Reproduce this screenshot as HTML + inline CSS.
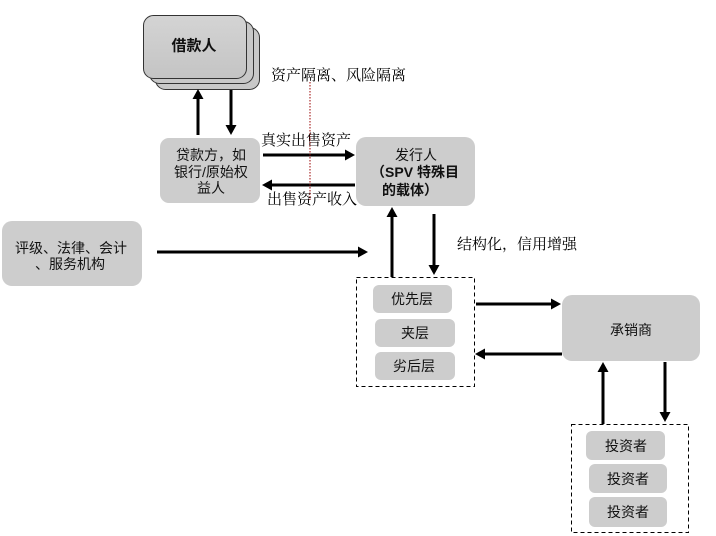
<!DOCTYPE html>
<html><head><meta charset="utf-8">
<style>
html,body{margin:0;padding:0;background:#fff;}
svg{display:block;}
text{font-family:"Liberation Sans","Noto Sans CJK SC",sans-serif;fill:#111;}
text.s{font-family:"Liberation Serif","Noto Serif CJK SC",serif;fill:#000;}
</style></head>
<body>
<svg width="716" height="536" viewBox="0 0 716 536" xmlns="http://www.w3.org/2000/svg">
<defs>
<linearGradient id="g" x1="0" y1="0" x2="0" y2="1">
<stop offset="0" stop-color="#d4d4d4"/><stop offset="1" stop-color="#c4c4c4"/>
</linearGradient>
</defs>
<!-- borrower stack -->
<rect x="155.5" y="27.5" width="104" height="62" rx="10" fill="#c8c8c8" stroke="#333" stroke-width="1"/>
<rect x="149.5" y="21.5" width="104" height="62" rx="10" fill="#c8c8c8" stroke="#333" stroke-width="1"/>
<rect x="143.5" y="15.5" width="103" height="63" rx="10" fill="url(#g)" stroke="#333" stroke-width="1"/>
<text x="194" y="46" font-size="15" font-weight="bold" text-anchor="middle" dominant-baseline="central">借款人</text>

<!-- arrows borrower <-> lender -->
<line x1="198" y1="135" x2="198" y2="98" stroke="#000" stroke-width="3"/>
<polygon points="198,89 192.5,99 203.5,99" fill="#000"/>
<line x1="231" y1="90" x2="231" y2="126" stroke="#000" stroke-width="3"/>
<polygon points="231,135 225.5,125 236.5,125" fill="#000"/>

<text class="s" x="271" y="76" font-size="15" dominant-baseline="central">资产隔离、风险隔离</text>

<!-- lender box -->
<rect x="160" y="138" width="100" height="65" rx="9" fill="#cdcdcd"/>
<text x="211" y="155" font-size="14" text-anchor="middle" dominant-baseline="central">贷款方，如</text>
<text x="211" y="172" font-size="14" text-anchor="middle" dominant-baseline="central">银行/原始权</text>
<text x="211" y="188" font-size="14" text-anchor="middle" dominant-baseline="central">益人</text>

<!-- sale arrows -->
<line x1="263" y1="155" x2="345" y2="155" stroke="#000" stroke-width="3"/>
<polygon points="355,155 345,149.5 345,160.5" fill="#000"/>
<text class="s" x="261" y="141" font-size="15" dominant-baseline="central">真实出售资产</text>
<line x1="355" y1="185" x2="272" y2="185" stroke="#000" stroke-width="3"/>
<polygon points="262,185 272,179.5 272,190.5" fill="#000"/>
<text class="s" x="267" y="200" font-size="15" dominant-baseline="central">出售资产收入</text>

<!-- red dotted line -->
<line x1="310" y1="82" x2="310" y2="200" stroke="#990000" stroke-width="1" stroke-dasharray="1.5,1.5"/>

<!-- issuer box -->
<rect x="356" y="137" width="119" height="69" rx="10" fill="#cdcdcd"/>
<text x="416" y="155" font-size="14" text-anchor="middle" dominant-baseline="central">发行人</text>
<text x="415" y="172" font-size="14" font-weight="bold" text-anchor="middle" dominant-baseline="central">（SPV 特殊目</text>
<text x="410" y="190" font-size="14" font-weight="bold" text-anchor="middle" dominant-baseline="central">的载体）</text>

<!-- rating box -->
<rect x="2" y="221" width="140" height="65" rx="10" fill="#cdcdcd"/>
<text x="71" y="248" font-size="14" text-anchor="middle" dominant-baseline="central">评级、法律、会计</text>
<text x="70" y="264" font-size="14" text-anchor="middle" dominant-baseline="central">、服务机构</text>
<line x1="157" y1="252" x2="358" y2="252" stroke="#000" stroke-width="3"/>
<polygon points="368,252 358,246.5 358,257.5" fill="#000"/>

<!-- issuer <-> tranche -->
<line x1="392" y1="277" x2="392" y2="216" stroke="#000" stroke-width="3"/>
<polygon points="392,207 386.5,217 397.5,217" fill="#000"/>
<line x1="434" y1="214" x2="434" y2="266" stroke="#000" stroke-width="3"/>
<polygon points="434,275 428.5,265 439.5,265" fill="#000"/>
<text class="s" x="457" y="245" font-size="15" dominant-baseline="central">结构化，信用增强</text>

<!-- tranche dashed box -->
<rect x="356.5" y="277.5" width="118" height="109" fill="none" stroke="#000" stroke-width="1" stroke-dasharray="4,3"/>
<rect x="373" y="285" width="79" height="28" rx="6" fill="#cdcdcd"/>
<text x="412" y="299" font-size="14" text-anchor="middle" dominant-baseline="central">优先层</text>
<rect x="375" y="319" width="80" height="28" rx="6" fill="#cdcdcd"/>
<text x="415" y="333" font-size="14" text-anchor="middle" dominant-baseline="central">夹层</text>
<rect x="375" y="352" width="80" height="28" rx="6" fill="#cdcdcd"/>
<text x="414" y="366" font-size="14" text-anchor="middle" dominant-baseline="central">劣后层</text>

<!-- tranche <-> underwriter -->
<line x1="476" y1="304" x2="551" y2="304" stroke="#000" stroke-width="3"/>
<polygon points="561,304 551,298.5 551,309.5" fill="#000"/>
<line x1="562" y1="354" x2="485" y2="354" stroke="#000" stroke-width="3"/>
<polygon points="475,354 485,348.5 485,359.5" fill="#000"/>

<!-- underwriter -->
<rect x="562" y="295" width="138" height="66" rx="10" fill="#cdcdcd"/>
<text x="631" y="330" font-size="14" text-anchor="middle" dominant-baseline="central">承销商</text>

<!-- underwriter <-> investors -->
<line x1="603" y1="424" x2="603" y2="371" stroke="#000" stroke-width="3"/>
<polygon points="603,362 597.5,372 608.5,372" fill="#000"/>
<line x1="665" y1="362" x2="665" y2="413" stroke="#000" stroke-width="3"/>
<polygon points="665,422 659.5,412 670.5,412" fill="#000"/>

<!-- investors -->
<rect x="571.5" y="424.5" width="117" height="108" fill="none" stroke="#000" stroke-width="1" stroke-dasharray="4,3"/>
<rect x="586" y="431" width="79" height="29" rx="6" fill="#cdcdcd"/>
<text x="626" y="446" font-size="14" text-anchor="middle" dominant-baseline="central">投资者</text>
<rect x="589" y="464" width="78" height="29" rx="6" fill="#cdcdcd"/>
<text x="628" y="479" font-size="14" text-anchor="middle" dominant-baseline="central">投资者</text>
<rect x="589" y="497" width="78" height="30" rx="6" fill="#cdcdcd"/>
<text x="628" y="512" font-size="14" text-anchor="middle" dominant-baseline="central">投资者</text>
</svg>
</body></html>
